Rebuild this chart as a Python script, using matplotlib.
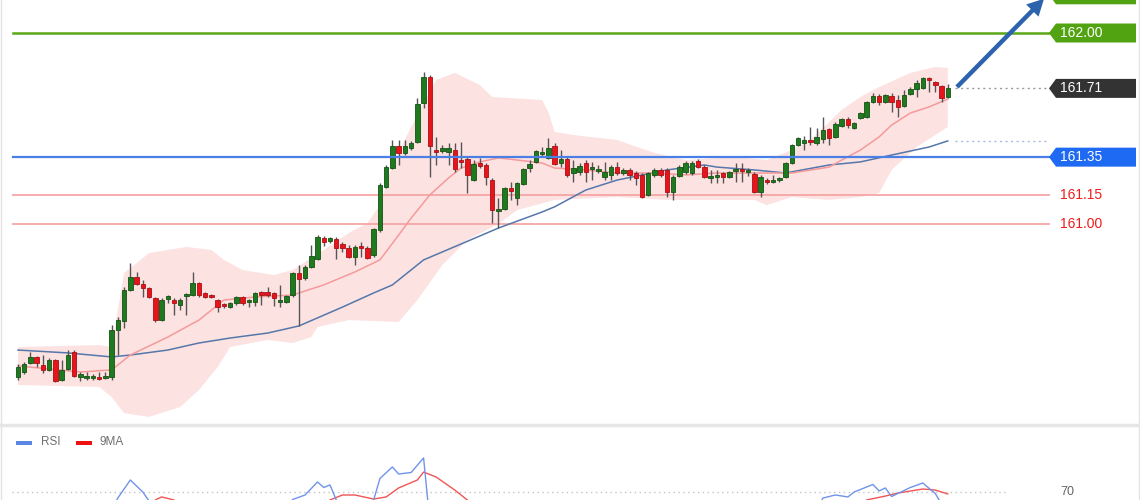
import matplotlib
matplotlib.use("Agg")
import matplotlib.pyplot as plt
from matplotlib.patches import Polygon, FancyArrowPatch, Rectangle
from matplotlib.lines import Line2D
import numpy as np

plt.rcParams['font.family'] = ['Liberation Sans', 'DejaVu Sans']

# ---------------- data ----------------
opens = [160.199, 160.225, 160.272, 160.304, 160.262, 160.236, 160.288, 160.183, 160.241, 160.330,
         160.199, 160.194, 160.194, 160.199, 160.194, 160.199, 160.445, 160.492, 160.654, 160.723,
         160.686, 160.665, 160.613, 160.497, 160.607, 160.602, 160.576, 160.623, 160.628, 160.691,
         160.639, 160.628, 160.602, 160.576, 160.565, 160.586, 160.618, 160.592, 160.592, 160.644,
         160.644, 160.639, 160.592, 160.592, 160.628, 160.743, 160.717, 160.775, 160.817, 160.927,
         160.911, 160.921, 160.895, 160.874, 160.827, 160.885, 160.874, 160.838, 160.969, 161.194,
         161.293, 161.408, 161.372, 161.398, 161.429, 161.634, 161.770, 161.387, 161.382, 161.377,
         161.387, 161.335, 161.340, 161.230, 161.319, 161.309, 161.230, 161.068, 161.079, 161.188,
         161.136, 161.209, 161.293, 161.325, 161.367, 161.346, 161.408, 161.319, 161.340, 161.267,
         161.272, 161.319, 161.288, 161.278, 161.246, 161.257, 161.298, 161.267, 161.283, 161.267,
         161.257, 161.152, 161.257, 161.283, 161.283, 161.168, 161.251, 161.272, 161.267, 161.330,
         161.298, 161.241, 161.246, 161.267, 161.246, 161.278, 161.288, 161.272, 161.262, 161.168,
         161.230, 161.220, 161.230, 161.246, 161.319, 161.414, 161.424, 161.440, 161.424, 161.445,
         161.497, 161.456, 161.513, 161.550, 161.503, 161.555, 161.560, 161.639, 161.670, 161.639,
         161.670, 161.649, 161.618, 161.681, 161.707, 161.712, 161.764, 161.744, 161.723, 161.665]
closes = [160.251, 160.267, 160.304, 160.272, 160.236, 160.288, 160.178, 160.236, 160.314, 160.204,
          160.215, 160.204, 160.204, 160.188, 160.204, 160.445, 160.497, 160.654, 160.723, 160.686,
          160.665, 160.618, 160.497, 160.602, 160.623, 160.586, 160.602, 160.634, 160.691, 160.628,
          160.618, 160.618, 160.565, 160.571, 160.586, 160.618, 160.586, 160.602, 160.639, 160.628,
          160.628, 160.613, 160.602, 160.623, 160.743, 160.712, 160.775, 160.832, 160.932, 160.906,
          160.927, 160.874, 160.874, 160.827, 160.880, 160.874, 160.822, 160.974, 161.204, 161.298,
          161.408, 161.372, 161.408, 161.424, 161.628, 161.770, 161.408, 161.377, 161.398, 161.398,
          161.288, 161.325, 161.257, 161.314, 161.304, 161.246, 161.073, 161.079, 161.188, 161.173,
          161.215, 161.288, 161.314, 161.382, 161.377, 161.398, 161.314, 161.340, 161.257, 161.293,
          161.304, 161.272, 161.298, 161.288, 161.272, 161.298, 161.267, 161.283, 161.257, 161.241,
          161.141, 161.267, 161.283, 161.257, 161.168, 161.246, 161.298, 161.319, 161.319, 161.298,
          161.246, 161.251, 161.251, 161.246, 161.272, 161.288, 161.278, 161.283, 161.168, 161.246,
          161.220, 161.230, 161.241, 161.319, 161.414, 161.450, 161.440, 161.429, 161.456, 161.492,
          161.450, 161.524, 161.550, 161.518, 161.529, 161.581, 161.639, 161.670, 161.639, 161.675,
          161.639, 161.613, 161.675, 161.707, 161.738, 161.764, 161.754, 161.728, 161.660, 161.712]
highs = [160.267, 160.277, 160.330, 160.309, 160.314, 160.298, 160.293, 160.288, 160.340, 160.340,
         160.225, 160.225, 160.215, 160.225, 160.225, 160.471, 160.513, 160.670, 160.796, 160.749,
         160.707, 160.670, 160.618, 160.613, 160.628, 160.613, 160.613, 160.639, 160.749, 160.696,
         160.644, 160.634, 160.607, 160.586, 160.592, 160.623, 160.623, 160.607, 160.644, 160.649,
         160.670, 160.644, 160.681, 160.628, 160.749, 160.785, 160.785, 160.890, 160.942, 160.937,
         160.932, 160.932, 160.906, 160.890, 160.890, 160.906, 160.885, 160.979, 161.215, 161.309,
         161.440, 161.440, 161.440, 161.435, 161.660, 161.796, 161.780, 161.456, 161.414, 161.424,
         161.424, 161.429, 161.351, 161.335, 161.346, 161.319, 161.241, 161.136, 161.194, 161.220,
         161.220, 161.293, 161.335, 161.387, 161.403, 161.450, 161.424, 161.387, 161.351, 161.335,
         161.319, 161.335, 161.325, 161.309, 161.325, 161.309, 161.325, 161.293, 161.293, 161.278,
         161.267, 161.272, 161.293, 161.293, 161.293, 161.257, 161.309, 161.330, 161.330, 161.340,
         161.309, 161.283, 161.283, 161.272, 161.278, 161.319, 161.319, 161.293, 161.272, 161.257,
         161.241, 161.257, 161.246, 161.325, 161.419, 161.456, 161.461, 161.508, 161.503, 161.560,
         161.503, 161.534, 161.555, 161.560, 161.534, 161.586, 161.644, 161.686, 161.681, 161.681,
         161.686, 161.675, 161.702, 161.717, 161.754, 161.770, 161.770, 161.749, 161.728, 161.733]
lows = [160.183, 160.215, 160.267, 160.251, 160.220, 160.230, 160.173, 160.178, 160.236, 160.199,
        160.178, 160.183, 160.183, 160.183, 160.188, 160.183, 160.314, 160.455, 160.649, 160.681,
        160.618, 160.613, 160.487, 160.492, 160.586, 160.524, 160.550, 160.524, 160.623, 160.618,
        160.613, 160.613, 160.539, 160.560, 160.560, 160.576, 160.576, 160.565, 160.571, 160.576,
        160.618, 160.571, 160.565, 160.586, 160.618, 160.466, 160.707, 160.770, 160.812, 160.885,
        160.901, 160.817, 160.853, 160.822, 160.785, 160.827, 160.817, 160.827, 160.958, 161.188,
        161.288, 161.309, 161.361, 161.387, 161.424, 161.607, 161.246, 161.309, 161.372, 161.309,
        161.272, 161.293, 161.162, 161.225, 161.293, 161.204, 161.005, 160.979, 161.073, 161.126,
        161.099, 161.204, 161.272, 161.319, 161.351, 161.340, 161.309, 161.298, 161.246, 161.220,
        161.257, 161.220, 161.230, 161.267, 161.230, 161.230, 161.257, 161.257, 161.230, 161.204,
        161.136, 161.147, 161.246, 161.246, 161.141, 161.126, 161.246, 161.262, 161.257, 161.293,
        161.241, 161.215, 161.215, 161.215, 161.241, 161.220, 161.220, 161.251, 161.162, 161.141,
        161.209, 161.215, 161.220, 161.241, 161.314, 161.408, 161.387, 161.414, 161.414, 161.424,
        161.414, 161.450, 161.508, 161.503, 161.497, 161.550, 161.555, 161.634, 161.623, 161.634,
        161.586, 161.560, 161.613, 161.675, 161.665, 161.707, 161.691, 161.691, 161.639, 161.660]

ma_fast_idx = [0, 10, 15, 18, 24, 29, 33, 38, 44, 49, 54, 58, 61, 63, 66, 69, 71, 74, 77, 80,
               84, 86, 91, 96, 102, 107, 112, 118, 124, 130, 132, 135, 138, 140, 143, 146, 149]
ma_fast_val = [160.257, 160.225, 160.236, 160.314, 160.408, 160.497, 160.602, 160.618, 160.628,
               160.681, 160.749, 160.812, 160.942, 161.031, 161.152, 161.241, 161.293, 161.325,
               161.346, 161.335, 161.319, 161.293, 161.283, 161.267, 161.267, 161.257, 161.267,
               161.267, 161.267, 161.298, 161.335, 161.387, 161.456, 161.518, 161.581, 161.613,
               161.654]

ma_slow_idx = [0, 8, 15, 18, 24, 29, 34, 40, 45, 52, 57, 60, 65, 74, 77, 84, 86, 91, 96, 104,
               110, 112, 118, 123, 130, 135, 140, 146, 149]
ma_slow_val = [160.340, 160.325, 160.304, 160.314, 160.340, 160.377, 160.403, 160.429, 160.466,
               160.565, 160.639, 160.681, 160.812, 160.937, 160.979, 161.063, 161.090, 161.178,
               161.230, 161.283, 161.309, 161.298, 161.283, 161.267, 161.309, 161.325, 161.361,
               161.403, 161.435]

bb_up_idx = [0, 13, 15, 17, 21, 27, 31, 33, 36, 41, 44, 49, 53, 56, 58, 60, 63, 67, 70, 74, 76,
             84, 85, 86, 89, 96, 102, 107, 115, 120, 124, 127, 132, 135, 138, 143, 147, 149]
bb_up_val = [160.356, 160.366, 160.356, 160.743, 160.848, 160.880, 160.864, 160.812, 160.759,
             160.733, 160.759, 160.864, 160.953, 161.005, 161.099, 161.309, 161.508, 161.754,
             161.791, 161.728, 161.665, 161.649, 161.586, 161.482, 161.466, 161.440, 161.372,
             161.335, 161.351, 161.335, 161.387, 161.440, 161.597, 161.665, 161.717, 161.791,
             161.822, 161.817]
bb_lo_idx = [0, 13, 15, 17, 21, 26, 29, 32, 34, 40, 44, 47, 48, 53, 61, 64, 68, 72, 77, 80, 86,
             96, 104, 112, 118, 120, 124, 130, 135, 138, 140, 144, 149]
bb_lo_val = [160.157, 160.147, 160.094, 160.010, 159.990, 160.042, 160.131, 160.251, 160.356,
             160.393, 160.377, 160.408, 160.461, 160.497, 160.487, 160.602, 160.785, 160.916,
             161.000, 161.073, 161.126, 161.141, 161.126, 161.126, 161.126, 161.099, 161.141,
             161.126, 161.141, 161.162, 161.283, 161.403, 161.508]

rsi_idx = [0, 15, 16, 18, 19, 20, 21, 22, 43, 44, 46, 48, 49, 50, 51, 52, 56, 57, 58, 60, 61, 63,
           65, 66, 128, 129, 131, 133, 134, 137, 138, 139, 140, 143, 145, 147, 148, 149]
rsi_val = [55, 58, 66, 78, 74, 70, 64, 55, 55, 65, 68, 76.7, 73, 74.7, 64.7, 58, 58, 64.7, 79,
           86.7, 82, 83, 92.7, 50, 58, 66, 68, 66.7, 70, 75, 70.7, 72.7, 67, 73, 76, 69, 62, 58]
rsi_ma_idx = [0, 21, 22, 23, 25, 27, 48, 50, 52, 54, 57, 59, 61, 64, 65, 67, 70, 72, 74, 134,
              136, 139, 141, 145, 147, 149]
rsi_ma_val = [50, 55, 64.7, 66.7, 64.7, 58, 58, 64.7, 68, 68, 65.3, 66.7, 72.7, 78, 83.3, 80,
              71.3, 64.7, 58, 58, 64.7, 67.3, 69.3, 72, 71.3, 68.7]

level_labels = ["162.20", "162.00", "161.71", "161.35", "161.15", "161.00"]
level_values = [162.20, 162.00, 161.71, 161.35, 161.15, 161.00]
rsi_level = 70

# ---------------- figure ----------------
W, H = 1140, 500
fig = plt.figure(figsize=(W / 100, H / 100), dpi=100)
fig.patch.set_facecolor('white')

STEP = 6.24          # pixels per candle
X0 = 18              # pixel of first candle
xlim = (-X0 / STEP, (W - X0) / STEP)
def ix(px):
    return (px - X0) / STEP

ax = fig.add_axes([0, 78 / H, 1, 422 / H])
ax.set_xlim(*xlim)
ax.set_ylim(161 - 198 / 191, 161 + 224 / 191)
ax.axis('off')

# Bollinger-like envelope
poly_x = list(bb_up_idx) + list(bb_lo_idx[::-1])
poly_y = list(bb_up_val) + list(bb_lo_val[::-1])
ax.fill(poly_x, poly_y, color='#fde2e2', lw=0, zorder=1)

# moving averages
ax.plot(ma_slow_idx, ma_slow_val, color='#5577aa', lw=1.1, zorder=3)
ax.plot(ma_fast_idx, ma_fast_val, color='#f59a9a', lw=1.1, zorder=3)

# level lines
xl0, xl1 = ix(13), ix(1049)
xd0 = ix(955)
ax.plot([xl0, xl1], [162.00, 162.00], color='#5aa818', lw=1.8, zorder=2)
ax.plot([xl0, xl1], [161.35, 161.35], color='#4a7fe6', lw=1.6, zorder=6)
ax.plot([xl0, xl1], [161.15, 161.15], color='#f6a6a6', lw=1.3, zorder=2)
ax.plot([xl0, xl1], [161.00, 161.00], color='#f6a6a6', lw=1.3, zorder=2)
ax.plot([xd0, xl1], [161.71, 161.71], color='#999999', lw=1.0, ls=(0, (1.5, 2.5)), zorder=2)
ax.plot([xd0, xl1], [ma_slow_val[-1], ma_slow_val[-1]], color='#a9bbdc', lw=1.0,
        ls=(0, (1.5, 2.5)), zorder=2)

# candles
x = np.arange(len(opens))
o = np.array(opens); c = np.array(closes)
hi = np.array(highs); lo = np.array(lows)
up = c >= o
body_col = np.where(up, '#1f7a1f', '#e8141c')
edge_col = np.where(up, '#145214', '#a80f14')
bottoms = np.minimum(o, c)
heights = np.maximum(np.abs(c - o), 0.008)
ax.vlines(x, lo, hi, colors='#555555', lw=1.0, zorder=4)
ax.bar(x, heights, bottom=bottoms, width=0.72, color=body_col, edgecolor=edge_col,
       lw=0.6, zorder=5)

# right-hand boxes
def box(val, text, fc, show_text=True):
    h = 9.5 / 191
    xt, xr, xe = ix(1049), ix(1056), ix(1136)
    pts = [(xt, val), (xr, val + h), (xe, val + h), (xe, val - h), (xr, val - h)]
    ax.add_patch(Polygon(pts, closed=True, fc=fc, ec='none', zorder=7, clip_on=False))
    if show_text:
        ax.text(ix(1060), val, text, color='white', fontsize=10, va='center', ha='left',
                zorder=8, clip_on=False)

# the top box sits mostly above the visible area; only its lower edge shows
box(level_values[0], level_labels[0], '#52a311', show_text=False)
box(level_values[1], level_labels[1], '#52a311')
box(level_values[2], level_labels[2], '#333333')
box(level_values[3], level_labels[3], '#1f6af2')
for v, t in zip(level_values[4:], level_labels[4:]):
    ax.text(ix(1060), v, t, color='#ee1c1c', fontsize=10, va='center', ha='left', zorder=8)

# arrow
arr = FancyArrowPatch((ix(955), closes[-1] - 0.005), (ix(1046), 162.19),
                      arrowstyle='simple,head_length=1.2,head_width=1.25,tail_width=0.32',
                      mutation_scale=10, color='#2d63ad', lw=0, zorder=9, clip_on=False)
ax.add_patch(arr)

# ---------------- RSI panel ----------------
ax2 = fig.add_axes([0, 0, 1, 74 / H])
ax2.set_xlim(*xlim)
ax2.set_ylim(70 - 8 / 1.5, 70 + 66 / 1.5)
ax2.axis('off')
ax2.plot([ix(12), ix(1005)], [rsi_level, rsi_level], color='#c4c4c4', lw=1.0,
         ls=(0, (1, 2.5)))
ax2.text(ix(1060), rsi_level, str(rsi_level), color='#666666', fontsize=9, va='center',
         ha='left')
ax2.plot(rsi_ma_idx, rsi_ma_val, color='#f05555', lw=1.0)
ax2.plot(rsi_idx, rsi_val, color='#7094ea', lw=1.0)

# legend
def fp(px, py):
    return (px / W, 1 - py / H)
fig.add_artist(Rectangle(fp(16, 444.5), 16 / W, 4 / H, transform=fig.transFigure,
                         color='#5b86e5', lw=0))
fig.text(*fp(41, 442), 'RSI', color='#707070', fontsize=8.5, va='center', ha='left')
fig.add_artist(Rectangle(fp(76, 444.5), 16 / W, 4 / H, transform=fig.transFigure,
                         color='#ee1111', lw=0))
fig.text(*fp(100, 442), '9MA', color='#707070', fontsize=8.5, va='center', ha='left')

# panel frames
fig.add_artist(Line2D([1 / W, 1 / W], [0, 1], transform=fig.transFigure, color='#e3e3e3', lw=1))
fig.add_artist(Line2D([1 - 1.5 / W, 1 - 1.5 / W], [0, 1], transform=fig.transFigure,
                      color='#e3e3e3', lw=1))
fig.add_artist(Line2D([0, 1], [1 - 424.5 / H, 1 - 424.5 / H], transform=fig.transFigure,
                      color='#e6e6e6', lw=2.5))

fig.savefig('out.png', dpi=100, facecolor='white')
